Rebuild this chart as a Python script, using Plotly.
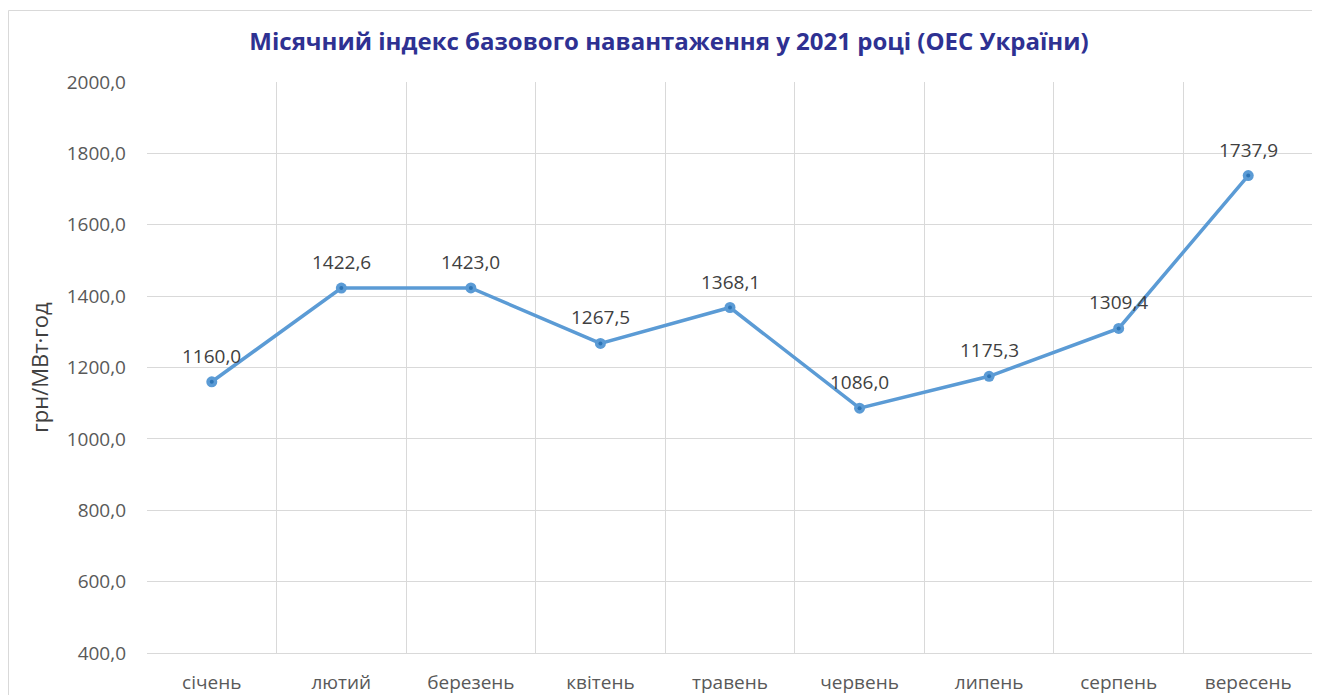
import plotly.graph_objects as go

months = ["січень", "лютий", "березень", "квітень", "травень", "червень", "липень", "серпень", "вересень"]
values = [1160.0, 1422.6, 1423.0, 1267.5, 1368.1, 1086.0, 1175.3, 1309.4, 1737.9]
labels = [f"{v:.1f}".replace(".", ",") for v in values]
y_ticks = [400, 600, 800, 1000, 1200, 1400, 1600, 1800, 2000]
y_ticktext = [f"{v:.1f}".replace(".", ",") for v in y_ticks]

FONT = "Open Sans, Segoe UI, sans-serif"

fig = go.Figure()
fig.add_trace(go.Scatter(
    x=months, y=values, mode="lines+markers",
    line=dict(color="#5B9BD5", width=3.5),
    marker=dict(size=11, color="#5B9BD5"),
    cliponaxis=False, showlegend=False,
))
fig.add_trace(go.Scatter(
    x=months, y=values, mode="markers",
    marker=dict(size=4, color="#2E75B6"),
    showlegend=False, hoverinfo="skip",
))
for m, v, t in zip(months, values, labels):
    fig.add_annotation(x=m, y=v, text=t, showarrow=False, xanchor="center",
                       yanchor="bottom", yshift=11,
                       font=dict(family=FONT, size=19, color="#404040"))

# page is offset by the 8px body margin
OFF = 8
W, H = 1320 - OFF, 695 - OFF
L, R, T, B = 147 - OFF, 1320 - 1313, 82 - OFF, 695 - 653
pw, ph = W - L - R, H - T - B
def px(x):
    return (x - OFF - L) / pw
def py(y):
    return (H - B - (y - OFF)) / ph

fig.add_shape(type="rect", xref="paper", yref="paper",
              x0=px(8.5), x1=px(1330), y0=py(10.5), y1=py(720),
              line=dict(color="#D9D9D9", width=1), fillcolor="rgba(0,0,0,0)", layer="below")

fig.update_layout(
    width=W, height=H,
    margin=dict(l=L, r=R, t=T, b=B, autoexpand=False),
    paper_bgcolor="white", plot_bgcolor="white",
    title=dict(text="<b>Місячний індекс базового навантаження у 2021 році (ОЕС України)</b>",
               x=(669 - OFF) / W, xanchor="center", y=1 - (42 - OFF) / H, yanchor="middle",
               font=dict(family=FONT, size=24, color="#2E3192")),
    xaxis=dict(type="category", tickson="boundaries", showgrid=True, gridcolor="#D9D9D9",
               gridwidth=1, ticks="", showline=True, linecolor="#D9D9D9", automargin=False,
               tickfont=dict(family=FONT, size=19, color="#595959"),
               ticklabelstandoff=12, range=[-0.5, 8.5], mirror=False),
    yaxis=dict(range=[400, 2000], tickvals=y_ticks, ticktext=y_ticktext, automargin=False,
               showgrid=True, gridcolor="#D9D9D9", gridwidth=1, zeroline=False,
               tickfont=dict(family=FONT, size=19, color="#595959"),
               ticklabelstandoff=20,
               title=dict(text="грн/МВт·год", font=dict(family=FONT, size=22, color="#404040"),
                          standoff=12)),
)

fig.write_html("out.html")
